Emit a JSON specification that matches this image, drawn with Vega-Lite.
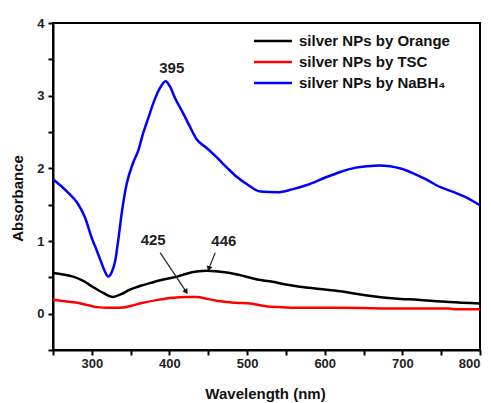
{
  "$schema": "https://vega.github.io/schema/vega-lite/v6.json",
  "autosize": "none",
  "width": 427,
  "height": 327,
  "padding": {"left": 53, "top": 23, "right": 11, "bottom": 53},
  "background": "white",
  "config": {
    "view": {"stroke": "black", "strokeWidth": 2},
    "axis": {
      "grid": false,
      "domainColor": "black",
      "domainWidth": 2,
      "tickColor": "black",
      "tickWidth": 2,
      "tickSize": 5,
      "labelFont": "Liberation Sans",
      "labelFontWeight": "bold",
      "labelFontSize": 13,
      "labelColor": "#222",
      "titleFont": "Liberation Sans",
      "titleFontWeight": "bold",
      "titleFontSize": 15,
      "titleColor": "#111"
    }
  },
  "datasets": {
    "spectra": [
      {"s": "silver NPs by NaBH₄", "w": 250, "a": 1.85},
      {"s": "silver NPs by NaBH₄", "w": 260, "a": 1.76},
      {"s": "silver NPs by NaBH₄", "w": 270, "a": 1.66},
      {"s": "silver NPs by NaBH₄", "w": 281, "a": 1.53},
      {"s": "silver NPs by NaBH₄", "w": 291, "a": 1.33},
      {"s": "silver NPs by NaBH₄", "w": 301, "a": 1.01},
      {"s": "silver NPs by NaBH₄", "w": 306, "a": 0.88},
      {"s": "silver NPs by NaBH₄", "w": 311, "a": 0.74},
      {"s": "silver NPs by NaBH₄", "w": 316, "a": 0.6},
      {"s": "silver NPs by NaBH₄", "w": 321, "a": 0.51},
      {"s": "silver NPs by NaBH₄", "w": 326, "a": 0.58},
      {"s": "silver NPs by NaBH₄", "w": 330, "a": 0.72},
      {"s": "silver NPs by NaBH₄", "w": 334, "a": 1.01},
      {"s": "silver NPs by NaBH₄", "w": 339, "a": 1.42},
      {"s": "silver NPs by NaBH₄", "w": 345, "a": 1.79},
      {"s": "silver NPs by NaBH₄", "w": 353, "a": 2.07},
      {"s": "silver NPs by NaBH₄", "w": 360, "a": 2.25},
      {"s": "silver NPs by NaBH₄", "w": 366, "a": 2.48},
      {"s": "silver NPs by NaBH₄", "w": 373, "a": 2.7},
      {"s": "silver NPs by NaBH₄", "w": 379, "a": 2.89},
      {"s": "silver NPs by NaBH₄", "w": 388, "a": 3.11},
      {"s": "silver NPs by NaBH₄", "w": 395, "a": 3.2},
      {"s": "silver NPs by NaBH₄", "w": 401, "a": 3.12},
      {"s": "silver NPs by NaBH₄", "w": 407, "a": 2.97},
      {"s": "silver NPs by NaBH₄", "w": 418, "a": 2.75},
      {"s": "silver NPs by NaBH₄", "w": 426, "a": 2.58},
      {"s": "silver NPs by NaBH₄", "w": 435, "a": 2.4},
      {"s": "silver NPs by NaBH₄", "w": 448, "a": 2.28},
      {"s": "silver NPs by NaBH₄", "w": 461, "a": 2.15},
      {"s": "silver NPs by NaBH₄", "w": 474, "a": 2.01},
      {"s": "silver NPs by NaBH₄", "w": 487, "a": 1.88},
      {"s": "silver NPs by NaBH₄", "w": 500, "a": 1.78},
      {"s": "silver NPs by NaBH₄", "w": 517, "a": 1.68},
      {"s": "silver NPs by NaBH₄", "w": 539, "a": 1.67},
      {"s": "silver NPs by NaBH₄", "w": 558, "a": 1.71},
      {"s": "silver NPs by NaBH₄", "w": 577, "a": 1.77},
      {"s": "silver NPs by NaBH₄", "w": 600, "a": 1.87},
      {"s": "silver NPs by NaBH₄", "w": 620, "a": 1.95},
      {"s": "silver NPs by NaBH₄", "w": 640, "a": 2.01},
      {"s": "silver NPs by NaBH₄", "w": 655, "a": 2.03},
      {"s": "silver NPs by NaBH₄", "w": 670, "a": 2.04},
      {"s": "silver NPs by NaBH₄", "w": 684, "a": 2.03},
      {"s": "silver NPs by NaBH₄", "w": 700, "a": 1.99},
      {"s": "silver NPs by NaBH₄", "w": 714, "a": 1.93},
      {"s": "silver NPs by NaBH₄", "w": 730, "a": 1.85},
      {"s": "silver NPs by NaBH₄", "w": 749, "a": 1.74},
      {"s": "silver NPs by NaBH₄", "w": 767, "a": 1.67},
      {"s": "silver NPs by NaBH₄", "w": 784, "a": 1.59},
      {"s": "silver NPs by NaBH₄", "w": 800, "a": 1.49},

      {"s": "silver NPs by Orange", "w": 250, "a": 0.56},
      {"s": "silver NPs by Orange", "w": 263, "a": 0.54},
      {"s": "silver NPs by Orange", "w": 276, "a": 0.51},
      {"s": "silver NPs by Orange", "w": 289, "a": 0.45},
      {"s": "silver NPs by Orange", "w": 301, "a": 0.37},
      {"s": "silver NPs by Orange", "w": 314, "a": 0.29},
      {"s": "silver NPs by Orange", "w": 327, "a": 0.23},
      {"s": "silver NPs by Orange", "w": 338, "a": 0.27},
      {"s": "silver NPs by Orange", "w": 349, "a": 0.33},
      {"s": "silver NPs by Orange", "w": 362, "a": 0.38},
      {"s": "silver NPs by Orange", "w": 375, "a": 0.42},
      {"s": "silver NPs by Orange", "w": 392, "a": 0.47},
      {"s": "silver NPs by Orange", "w": 410, "a": 0.51},
      {"s": "silver NPs by Orange", "w": 422, "a": 0.55},
      {"s": "silver NPs by Orange", "w": 435, "a": 0.58},
      {"s": "silver NPs by Orange", "w": 448, "a": 0.59},
      {"s": "silver NPs by Orange", "w": 463, "a": 0.58},
      {"s": "silver NPs by Orange", "w": 478, "a": 0.56},
      {"s": "silver NPs by Orange", "w": 491, "a": 0.53},
      {"s": "silver NPs by Orange", "w": 513, "a": 0.47},
      {"s": "silver NPs by Orange", "w": 533, "a": 0.44},
      {"s": "silver NPs by Orange", "w": 550, "a": 0.4},
      {"s": "silver NPs by Orange", "w": 568, "a": 0.37},
      {"s": "silver NPs by Orange", "w": 594, "a": 0.34},
      {"s": "silver NPs by Orange", "w": 620, "a": 0.31},
      {"s": "silver NPs by Orange", "w": 642, "a": 0.27},
      {"s": "silver NPs by Orange", "w": 662, "a": 0.24},
      {"s": "silver NPs by Orange", "w": 690, "a": 0.21},
      {"s": "silver NPs by Orange", "w": 720, "a": 0.19},
      {"s": "silver NPs by Orange", "w": 760, "a": 0.16},
      {"s": "silver NPs by Orange", "w": 800, "a": 0.14},

      {"s": "silver NPs by TSC", "w": 250, "a": 0.19},
      {"s": "silver NPs by TSC", "w": 265, "a": 0.17},
      {"s": "silver NPs by TSC", "w": 281, "a": 0.15},
      {"s": "silver NPs by TSC", "w": 294, "a": 0.12},
      {"s": "silver NPs by TSC", "w": 307, "a": 0.09},
      {"s": "silver NPs by TSC", "w": 322, "a": 0.08},
      {"s": "silver NPs by TSC", "w": 336, "a": 0.08},
      {"s": "silver NPs by TSC", "w": 351, "a": 0.11},
      {"s": "silver NPs by TSC", "w": 366, "a": 0.15},
      {"s": "silver NPs by TSC", "w": 385, "a": 0.19},
      {"s": "silver NPs by TSC", "w": 405, "a": 0.22},
      {"s": "silver NPs by TSC", "w": 420, "a": 0.23},
      {"s": "silver NPs by TSC", "w": 435, "a": 0.23},
      {"s": "silver NPs by TSC", "w": 450, "a": 0.2},
      {"s": "silver NPs by TSC", "w": 465, "a": 0.17},
      {"s": "silver NPs by TSC", "w": 485, "a": 0.15},
      {"s": "silver NPs by TSC", "w": 504, "a": 0.14},
      {"s": "silver NPs by TSC", "w": 515, "a": 0.12},
      {"s": "silver NPs by TSC", "w": 526, "a": 0.1},
      {"s": "silver NPs by TSC", "w": 545, "a": 0.09},
      {"s": "silver NPs by TSC", "w": 568, "a": 0.08},
      {"s": "silver NPs by TSC", "w": 620, "a": 0.08},
      {"s": "silver NPs by TSC", "w": 700, "a": 0.07},
      {"s": "silver NPs by TSC", "w": 760, "a": 0.07},
      {"s": "silver NPs by TSC", "w": 770, "a": 0.06},
      {"s": "silver NPs by TSC", "w": 800, "a": 0.06}
    ],
    "peaknotes": [
      {"t": "395", "w": 403, "a": 3.38},
      {"t": "425", "w": 379, "a": 1.02},
      {"t": "446", "w": 470, "a": 1.0}
    ],
    "arrowlines": [
      {"id": "425", "w": 388, "a": 0.84, "w2": 421, "a2": 0.31},
      {"id": "446", "w": 459, "a": 0.84, "w2": 451, "a2": 0.63}
    ],
    "arrowheads": [
      {"id": "425", "w": 421, "a": 0.31},
      {"id": "446", "w": 451, "a": 0.63}
    ]
  },
  "encoding": {
    "x": {
      "field": "w", "type": "quantitative",
      "scale": {"domain": [250, 800], "nice": false, "zero": false},
      "axis": {
        "title": "Wavelength (nm)",
        "values": [250, 300, 350, 400, 450, 500, 550, 600, 650, 700, 750, 800],
        "labelExpr": "datum.value % 100 == 0 ? datum.label : ''",
        "titleX": 212,
        "titleY": 36,
        "titleBaseline": "top"
      }
    },
    "y": {
      "field": "a", "type": "quantitative",
      "scale": {"domain": [-0.5, 4], "nice": false, "zero": false},
      "axis": {
        "title": "Absorbance",
        "values": [-0.5, 0, 0.5, 1, 1.5, 2, 2.5, 3, 3.5, 4],
        "format": "~g",
        "labelExpr": "datum.value % 1 == 0 ? datum.label : ''",
        "labelPadding": 4,
        "titleX": -28,
        "titleY": 175
      }
    }
  },
  "layer": [
    {
      "data": {"name": "spectra"},
      "mark": {"type": "line", "strokeWidth": 2.5, "interpolate": "monotone"},
      "encoding": {
        "color": {
          "field": "s", "type": "nominal",
          "scale": {
            "domain": ["silver NPs by Orange", "silver NPs by TSC", "silver NPs by NaBH₄"],
            "range": ["black", "#ff0000", "#0000ff"]
          },
          "legend": {
            "title": null,
            "orient": "none",
            "legendX": 212,
            "legendY": 10,
            "padding": 0,
            "symbolType": "M-3,0H3",
            "symbolSize": 160,
            "symbolStrokeWidth": 2.5,
            "symbolFillColor": "transparent",
            "labelOffset": 18,
            "labelFont": "Liberation Sans",
            "labelFontWeight": "bold",
            "labelFontSize": 15,
            "labelColor": "#111",
            "labelLimit": 300,
            "rowPadding": 5
          }
        }
      }
    },
    {
      "data": {"name": "arrowlines"},
      "mark": {"type": "rule", "color": "#222", "strokeWidth": 1.2},
      "encoding": {
        "x2": {"field": "w2"},
        "y2": {"field": "a2"}
      }
    },
    {
      "data": {"name": "arrowheads"},
      "transform": [{"filter": "datum.id === '425'"}],
      "mark": {"type": "point", "shape": "triangle", "filled": true, "color": "#111", "size": 35, "angle": 147, "opacity": 1},
      "encoding": {}
    },
    {
      "data": {"name": "arrowheads"},
      "transform": [{"filter": "datum.id === '446'"}],
      "mark": {"type": "point", "shape": "triangle", "filled": true, "color": "#111", "size": 35, "angle": 196, "opacity": 1},
      "encoding": {}
    },
    {
      "data": {"name": "peaknotes"},
      "mark": {"type": "text", "font": "Liberation Sans", "fontWeight": "bold", "fontSize": 15, "color": "#222", "baseline": "middle", "align": "center"},
      "encoding": {
        "text": {"field": "t"}
      }
    }
  ]
}
